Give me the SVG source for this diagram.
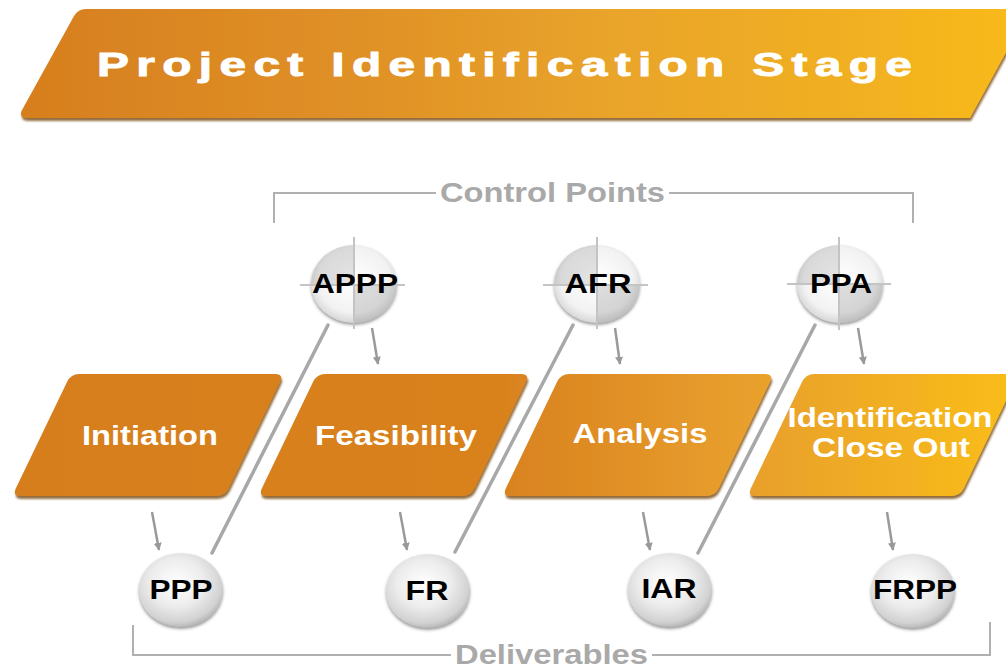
<svg xmlns="http://www.w3.org/2000/svg" width="1006" height="668" viewBox="0 0 1006 668">
<defs>
  <linearGradient id="bannerGrad" gradientUnits="userSpaceOnUse" x1="18" y1="0" x2="1006" y2="0">
    <stop offset="0" stop-color="#D67E1E"/>
    <stop offset="0.35" stop-color="#E09127"/>
    <stop offset="0.6" stop-color="#E9A42A"/>
    <stop offset="0.85" stop-color="#F1B022"/>
    <stop offset="1" stop-color="#F8B91A"/>
  </linearGradient>
  <linearGradient id="phaseGrad" gradientUnits="userSpaceOnUse" x1="0" y1="0" x2="1006" y2="0">
    <stop offset="0" stop-color="#D67E1D"/>
    <stop offset="0.5" stop-color="#D9821F"/>
    <stop offset="0.74" stop-color="#E89F2D"/>
    <stop offset="1" stop-color="#F9BC19"/>
  </linearGradient>
  <radialGradient id="ballGrad" cx="0.45" cy="0.4" r="0.65">
    <stop offset="0" stop-color="#ffffff"/>
    <stop offset="0.5" stop-color="#ececec"/>
    <stop offset="0.82" stop-color="#d2d2d2"/>
    <stop offset="1" stop-color="#a6a6a6"/>
  </radialGradient>
  <radialGradient id="ctrlGrad" cx="0.5" cy="0.45" r="0.6">
    <stop offset="0" stop-color="#ffffff"/>
    <stop offset="0.7" stop-color="#f2f2f2"/>
    <stop offset="0.92" stop-color="#d6d6d6"/>
    <stop offset="1" stop-color="#a9a9a9"/>
  </radialGradient>
  <filter id="shadow" x="-10%" y="-10%" width="120%" height="130%">
    <feDropShadow dx="1" dy="3" stdDeviation="1.2" flood-color="#6e3c06" flood-opacity="0.75"/>
  </filter>
  <filter id="ballShadow" x="-20%" y="-20%" width="140%" height="150%">
    <feDropShadow dx="0" dy="2" stdDeviation="1.5" flood-color="#555555" flood-opacity="0.6"/>
  </filter>
  <marker id="arrow" viewBox="0 0 10 10" refX="9" refY="5" markerWidth="3.2" markerHeight="3.2" orient="auto" markerUnits="strokeWidth">
    <path d="M0,0 L10,5 L0,10 Z" fill="#999999"/>
  </marker>
  <style>
    .lbl { font-family: "Liberation Sans", Arial, sans-serif; font-weight: bold; }
    .phase-text { fill: #ffffff; font-size: 27px; }
    .ball-text { fill: #000000; font-size: 27px; }
    .grey-text { fill: #a9a9a9; font-size: 28px; }
    .bracket { fill: none; stroke: #b0b0b0; stroke-width: 2; }
    .arrow { fill: none; stroke: #9a9a9a; stroke-width: 2.5; marker-end: url(#arrow); }
    .diag { fill: none; stroke: #a8a8a8; stroke-width: 3.5; stroke-linecap: round; }
    .cross { stroke: #c4c4c4; stroke-width: 2; }
    .phase { fill: url(#phaseGrad); filter: url(#shadow); }
  </style>
</defs>

<rect width="1006" height="668" fill="#ffffff"/>

<g id="banner">
  <path d="M86,9 H1030 L970,118 H28 Q18,118 22,110 L74,16 Q78,9 86,9 Z" fill="url(#bannerGrad)" filter="url(#shadow)"/>
  <g transform="translate(504.5,76) scale(1.45,1)">
    <text class="lbl" x="0" y="0" text-anchor="middle" font-size="33" fill="#ffffff" stroke="#ffffff" stroke-width="0.9" textLength="562" lengthAdjust="spacing">Project Identification Stage</text>
  </g>
</g>

<g id="brackets">
  <path class="bracket" d="M274,223 V193 H436"/>
  <path class="bracket" d="M669,193 H913 V223"/>
  <text class="lbl grey-text" x="552.5" y="202" text-anchor="middle" textLength="225" lengthAdjust="spacingAndGlyphs">Control Points</text>
  <path class="bracket" d="M133,625 V655 H451"/>
  <path class="bracket" d="M652,655 H990 V622"/>
  <text class="lbl grey-text" x="551.5" y="664" text-anchor="middle" textLength="193" lengthAdjust="spacingAndGlyphs">Deliverables</text>
</g>

<g id="connectors">
  <line class="diag" x1="212" y1="553" x2="328" y2="325"/>
  <line class="diag" x1="455" y1="552" x2="573" y2="325"/>
  <line class="diag" x1="698" y1="553" x2="815" y2="325"/>
  <line class="arrow" x1="372" y1="328" x2="378" y2="364"/>
  <line class="arrow" x1="615" y1="328" x2="620" y2="364"/>
  <line class="arrow" x1="858" y1="328" x2="864" y2="364"/>
  <line class="arrow" x1="152" y1="512" x2="159" y2="550"/>
  <line class="arrow" x1="400" y1="512" x2="407" y2="550"/>
  <line class="arrow" x1="643" y1="512" x2="650" y2="550"/>
  <line class="arrow" x1="887" y1="512" x2="893" y2="550"/>
</g>

<g id="phase-initiation">
  <path class="phase" d="M79,374 H275 Q284,374 280,382 L229,488 Q225,496 216,496 H21 Q12,496 16,488 L67,382 Q71,374 79,374 Z"/>
  <text class="lbl phase-text" x="150" y="445" text-anchor="middle" textLength="136" lengthAdjust="spacingAndGlyphs">Initiation</text>
</g>
<g id="phase-feasibility">
  <path class="phase" d="M325,374 H521 Q530,374 526,382 L475,488 Q471,496 462,496 H267 Q258,496 262,488 L313,382 Q317,374 325,374 Z"/>
  <text class="lbl phase-text" x="396" y="445" text-anchor="middle" textLength="162" lengthAdjust="spacingAndGlyphs">Feasibility</text>
</g>
<g id="phase-analysis">
  <path class="phase" d="M569,374 H765 Q774,374 770,382 L719,488 Q715,496 706,496 H511 Q502,496 506,488 L557,382 Q561,374 569,374 Z"/>
  <text class="lbl phase-text" x="640" y="443" text-anchor="middle" textLength="135" lengthAdjust="spacingAndGlyphs">Analysis</text>
</g>
<g id="phase-closeout">
  <path class="phase" d="M814,374 H1010 Q1019,374 1015,382 L964,488 Q960,496 951,496 H756 Q747,496 751,488 L802,382 Q806,374 814,374 Z"/>
  <text class="lbl phase-text" x="890" y="427" text-anchor="middle" textLength="205" lengthAdjust="spacingAndGlyphs">Identification</text>
  <text class="lbl phase-text" x="891" y="457" text-anchor="middle" textLength="158" lengthAdjust="spacingAndGlyphs">Close Out</text>
</g>

<g id="cp-appp">
  <ellipse cx="354" cy="284" rx="43" ry="39" fill="url(#ctrlGrad)" filter="url(#ballShadow)"/>
  <path d="M354,284 H311 A43,39 0 0 1 354,245 Z" fill="#000000" fill-opacity="0.1"/>
  <path d="M354,284 H397 A43,39 0 0 1 354,323 Z" fill="#000000" fill-opacity="0.12"/>
  <line class="cross" x1="300" y1="285" x2="405" y2="285"/>
  <line class="cross" x1="354" y1="237" x2="354" y2="329"/>
  <text class="lbl ball-text" x="355" y="293" text-anchor="middle" textLength="86" lengthAdjust="spacingAndGlyphs">APPP</text>
</g>
<g id="cp-afr">
  <ellipse cx="597" cy="284" rx="43" ry="39" fill="url(#ctrlGrad)" filter="url(#ballShadow)"/>
  <path d="M597,284 H554 A43,39 0 0 1 597,245 Z" fill="#000000" fill-opacity="0.1"/>
  <path d="M597,284 H640 A43,39 0 0 1 597,323 Z" fill="#000000" fill-opacity="0.12"/>
  <line class="cross" x1="543" y1="285" x2="648" y2="285"/>
  <line class="cross" x1="597" y1="237" x2="597" y2="329"/>
  <text class="lbl ball-text" x="598" y="293" text-anchor="middle" textLength="67" lengthAdjust="spacingAndGlyphs">AFR</text>
</g>
<g id="cp-ppa">
  <ellipse cx="840" cy="284" rx="43" ry="39" fill="url(#ctrlGrad)" filter="url(#ballShadow)"/>
  <path d="M840,284 H797 A43,39 0 0 1 840,245 Z" fill="#000000" fill-opacity="0.1"/>
  <path d="M840,284 H883 A43,39 0 0 1 840,323 Z" fill="#000000" fill-opacity="0.12"/>
  <line class="cross" x1="787" y1="284" x2="891" y2="284"/>
  <line class="cross" x1="839" y1="237" x2="839" y2="330"/>
  <text class="lbl ball-text" x="841" y="293" text-anchor="middle" textLength="62" lengthAdjust="spacingAndGlyphs">PPA</text>
</g>

<g id="del-ppp">
  <ellipse cx="181" cy="590" rx="42" ry="37" fill="url(#ballGrad)" filter="url(#ballShadow)"/>
  <text class="lbl ball-text" x="181" y="599" text-anchor="middle" textLength="63" lengthAdjust="spacingAndGlyphs">PPP</text>
</g>
<g id="del-fr">
  <ellipse cx="428" cy="591" rx="42" ry="37" fill="url(#ballGrad)" filter="url(#ballShadow)"/>
  <text class="lbl ball-text" x="427" y="600" text-anchor="middle" textLength="43" lengthAdjust="spacingAndGlyphs">FR</text>
</g>
<g id="del-iar">
  <ellipse cx="670" cy="590" rx="42" ry="37" fill="url(#ballGrad)" filter="url(#ballShadow)"/>
  <text class="lbl ball-text" x="669" y="598" text-anchor="middle" textLength="55" lengthAdjust="spacingAndGlyphs">IAR</text>
</g>
<g id="del-frpp">
  <ellipse cx="913" cy="591" rx="42" ry="37" fill="url(#ballGrad)" filter="url(#ballShadow)"/>
  <text class="lbl ball-text" x="915" y="599" text-anchor="middle" textLength="84" lengthAdjust="spacingAndGlyphs">FRPP</text>
</g>
</svg>
